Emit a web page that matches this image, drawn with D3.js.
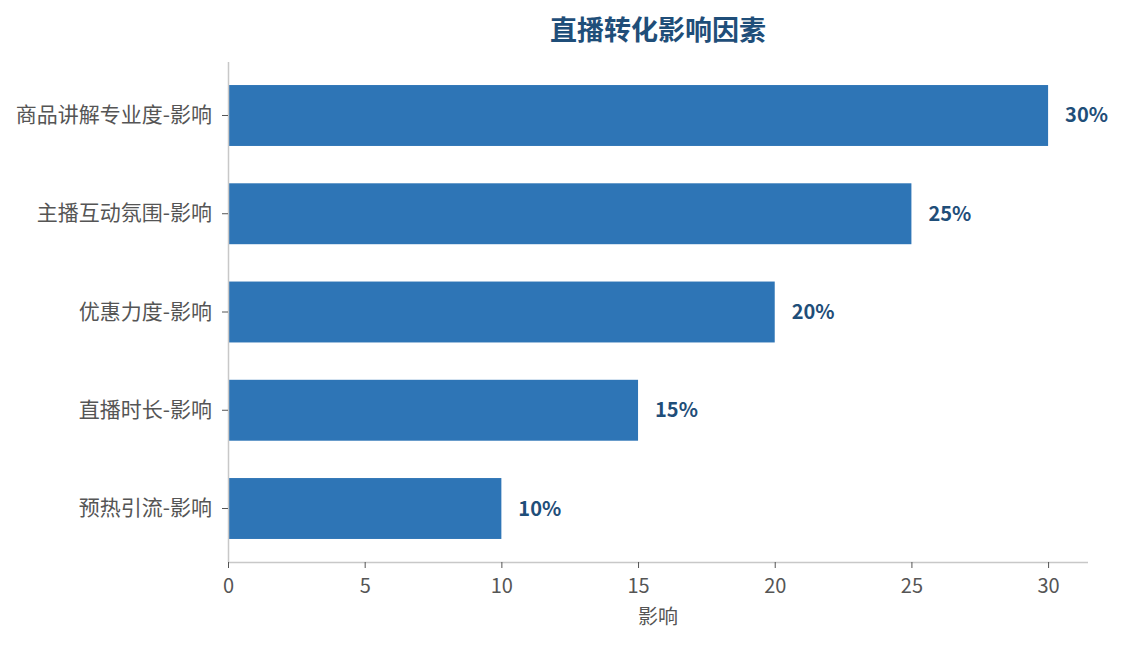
<!DOCTYPE html>
<html>
<head>
<meta charset="utf-8">
<script src="https://cdn.jsdelivr.net/npm/d3@7"></script>
<style>
  html, body { margin: 0; padding: 0; background: #fff; }
  text { font-family: "Noto Sans CJK SC", "Noto Sans", sans-serif; }
</style>
</head>
<body>
<svg id="chart" width="1125" height="645"></svg>
<script>
const categories = ["商品讲解专业度-影响", "主播互动氛围-影响", "优惠力度-影响", "直播时长-影响", "预热引流-影响"];
const values = [30, 25, 20, 15, 10];
const valueLabels = ["30%", "25%", "20%", "15%", "10%"];
const xTicks = [0, 5, 10, 15, 20, 25, 30];
const titleText = "直播转化影响因素";
const xAxisLabel = "影响";

(function () {
const svg = d3.select("#chart");
const mLeft = 228, mRight = 1088, mTop = 62, mBottom = 562;

const x = d3.scaleLinear().domain([0, 31.46]).range([mLeft, mRight]);
const y = d3.scaleBand().domain(categories).range([mTop, mBottom]).paddingInner(0.38).paddingOuter(0.2345);

// bars
svg.append("g").selectAll("rect").data(categories).join("rect")
  .attr("x", x(0))
  .attr("y", d => y(d))
  .attr("width", (d, i) => x(values[i]) - x(0))
  .attr("height", y.bandwidth())
  .attr("fill", "#2e75b6");

// value labels
svg.append("g").selectAll("text").data(categories).join("text")
  .attr("x", (d, i) => x(values[i]) + 17)
  .attr("y", d => y(d) + y.bandwidth() / 2)
  .attr("dy", "0.35em")
  .attr("font-size", 20)
  .attr("font-weight", "bold")
  .attr("fill", "#1f4e79")
  .text((d, i) => valueLabels[i]);

// x axis
const xAxis = svg.append("g").attr("transform", `translate(0,${mBottom})`)
  .call(d3.axisBottom(x).tickValues(xTicks).tickSize(6).tickPadding(11));
xAxis.select(".domain").attr("stroke", "#c8c8c8").attr("stroke-width", 1.5)
  .attr("d", `M${mLeft},0.5H${mRight}`);
xAxis.selectAll(".tick line").attr("stroke", "#555");
xAxis.selectAll(".tick text").attr("fill", "#555").attr("font-size", 20)
  .style("font-family", "'Noto Sans CJK SC', sans-serif");

// y axis
const yAxis = svg.append("g").attr("transform", `translate(${mLeft},0)`)
  .call(d3.axisLeft(y).tickSize(6).tickPadding(10));
yAxis.select(".domain").attr("stroke", "#c8c8c8").attr("stroke-width", 1.5)
  .attr("d", `M0.5,${mTop}V${mBottom}`);
yAxis.selectAll(".tick line").attr("stroke", "#555");
yAxis.selectAll(".tick text").attr("fill", "#555").attr("font-size", 21)
  .style("font-family", "'Noto Sans CJK SC', sans-serif");

// x axis label
svg.append("text")
  .attr("x", 658)
  .attr("y", 624)
  .attr("text-anchor", "middle")
  .attr("font-size", 20)
  .attr("fill", "#555")
  .text(xAxisLabel);

// title
svg.append("text")
  .attr("x", 658)
  .attr("y", 40)
  .attr("text-anchor", "middle")
  .attr("font-size", 27)
  .attr("font-weight", "bold")
  .attr("fill", "#1f4e79")
  .text(titleText);
})();
</script>
</body>
</html>
